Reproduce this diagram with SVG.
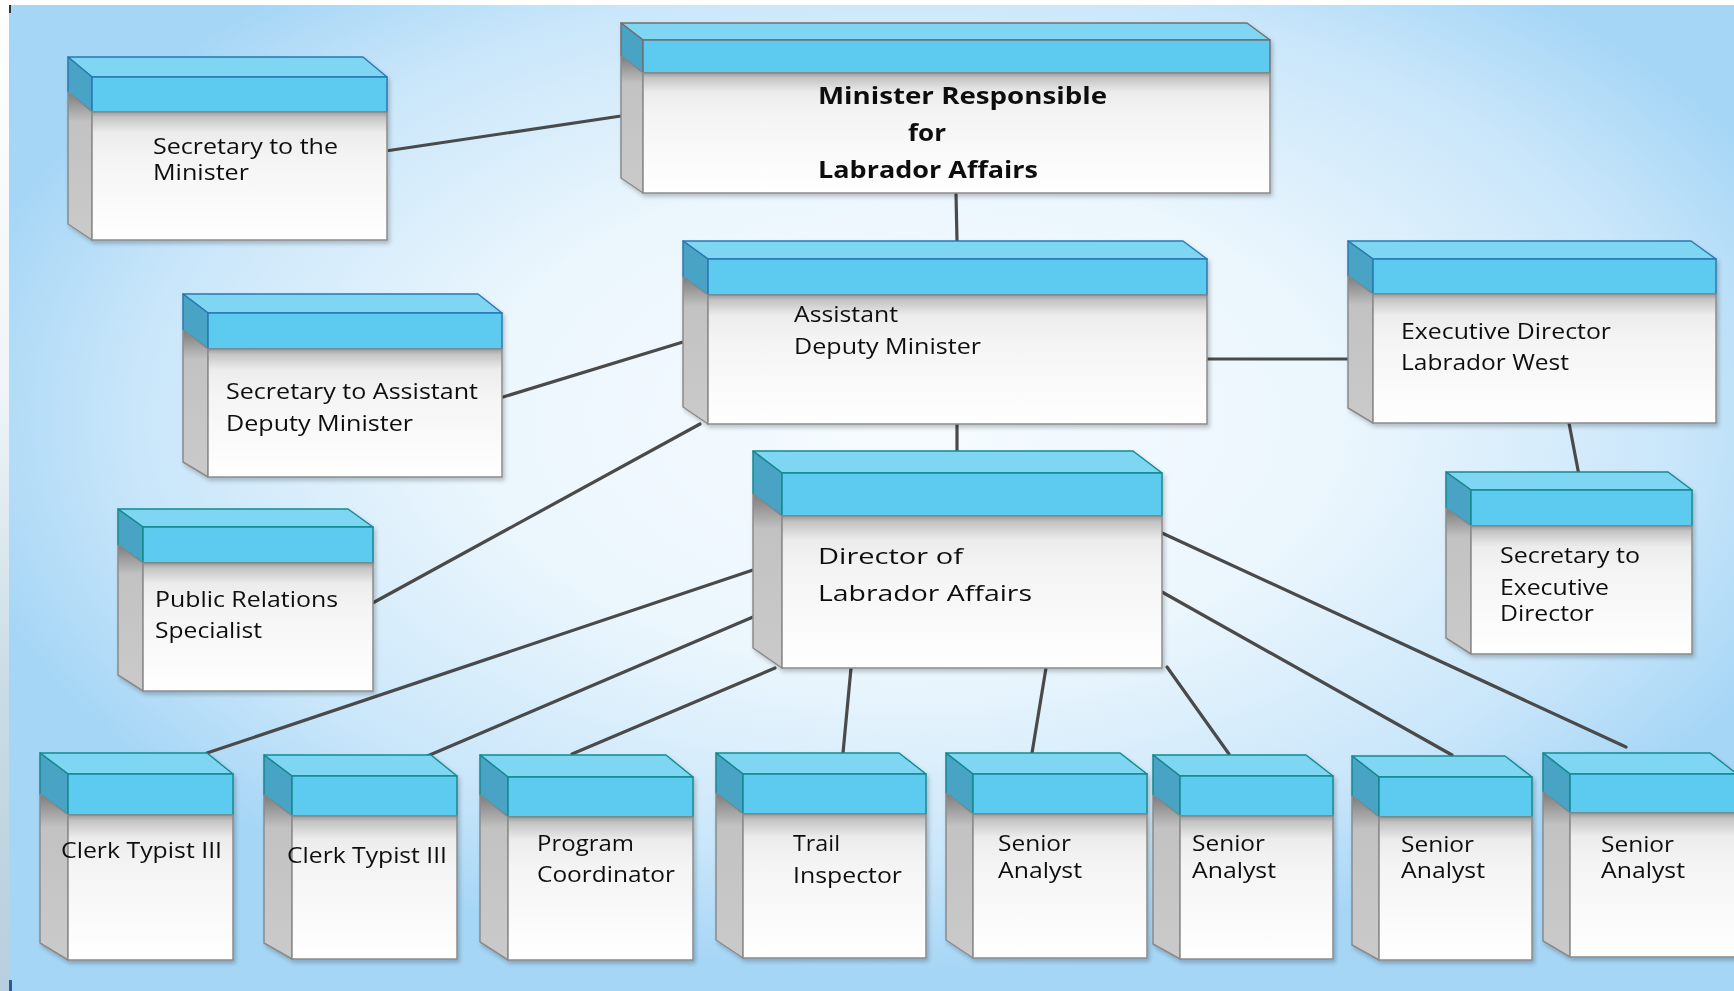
<svg xmlns="http://www.w3.org/2000/svg" width="1734" height="991" viewBox="0 0 1734 991">
<defs>
<radialGradient id="bg" cx="0.52" cy="0.42" r="0.56">
<stop offset="0" stop-color="#f6fbff"/>
<stop offset="0.45" stop-color="#ebf6fd"/>
<stop offset="0.8" stop-color="#c9e6fa"/>
<stop offset="1" stop-color="#a6d6f6"/>
</radialGradient>
<linearGradient id="strip" x1="0" y1="0" x2="0" y2="1">
<stop offset="0" stop-color="#ffffff"/>
<stop offset="0.4" stop-color="#eef4f8"/>
<stop offset="0.7" stop-color="#c9dbe6"/>
<stop offset="1" stop-color="#b7cfdf"/>
</linearGradient>
<linearGradient id="gBody" x1="0" y1="0" x2="0" y2="1">
<stop offset="0" stop-color="#9c9c9c"/>
<stop offset="0.04" stop-color="#c4c4c4"/>
<stop offset="0.16" stop-color="#ececec"/>
<stop offset="0.35" stop-color="#f4f4f4"/>
<stop offset="1" stop-color="#ffffff"/>
</linearGradient>
<linearGradient id="gSide" x1="0" y1="0" x2="0" y2="1">
<stop offset="0" stop-color="#7c7c7c"/>
<stop offset="0.2" stop-color="#c2c2c2"/>
<stop offset="1" stop-color="#cacaca"/>
</linearGradient>
<filter id="sh" x="-5%" y="-5%" width="112%" height="115%">
<feDropShadow dx="2" dy="3" stdDeviation="2" flood-color="#000" flood-opacity="0.22"/>
</filter>
</defs>
<style>
.top{fill:#7fd6f3;stroke-width:1.5;stroke-linejoin:round}
.band{fill:#5dcaf0;stroke-width:1.5}
.bside{fill:#4aa3c4;stroke-width:1.5;stroke-linejoin:round}
.body{fill:url(#gBody);stroke:#8a8a8a;stroke-width:1.5}
.side{fill:url(#gSide);stroke:#8a8a8a;stroke-width:1.5;stroke-linejoin:round}
.teal .top,.teal .band,.teal .bside{stroke:#138a8e}
.blue .top,.blue .band,.blue .bside{stroke:#2a78b2}
.grey .top,.grey .band,.grey .bside{stroke:#707070}
.box{filter:url(#sh)}
.t{font-family:"Open Sans","Liberation Sans",sans-serif;font-size:21px;fill:#111111}
.tb{font-family:"Open Sans","Liberation Sans",sans-serif;font-size:23px;font-weight:bold;fill:#111111}
.td{font-family:"Open Sans","Liberation Sans",sans-serif;font-size:22.5px;fill:#111111}
.conn line{stroke:#4a4a4a;stroke-width:3.2;stroke-linecap:round}
</style>
<rect x="0" y="0" width="1734" height="991" fill="#ffffff"/>
<rect x="0" y="0" width="10" height="991" fill="url(#strip)"/>
<rect x="9" y="5" width="1725" height="986" fill="url(#bg)"/>
<rect x="9" y="5" width="2" height="8" fill="#333"/>
<rect x="9" y="980" width="3" height="11" fill="#2a5a9a"/>

<g id="connectors" class="conn">
<line x1="389" y1="150.5" x2="621" y2="116"/>
<line x1="956" y1="193" x2="957" y2="241"/>
<line x1="503" y1="397" x2="683" y2="342"/>
<line x1="1207" y1="359" x2="1348" y2="359"/>
<line x1="1569" y1="423" x2="1582" y2="491"/>
<line x1="700" y1="424" x2="369" y2="605"/>
<line x1="957" y1="424" x2="957" y2="451"/>
<line x1="753" y1="570" x2="207" y2="753"/>
<line x1="753" y1="617" x2="425" y2="757"/>
<line x1="775" y1="668" x2="572" y2="754"/>
<line x1="851" y1="668" x2="843" y2="753"/>
<line x1="1046" y1="668" x2="1032" y2="753"/>
<line x1="1167" y1="667" x2="1229" y2="754"/>
<line x1="1162" y1="592" x2="1452" y2="755"/>
<line x1="1162" y1="533" x2="1626" y2="747"/>
</g>

<g id="n-sec-minister" class="box blue">
<polygon class="top" points="68,57 363,57 387,77 92,77"/>
<polygon class="bside" points="68,57 92,77 92,112 68,92"/>
<rect class="band" x="92" y="77" width="295" height="35"/>
<polygon class="side" points="68,92 92,112 92,240 68,224"/>
<rect class="body" x="92" y="112" width="295" height="128"/>
<text class="t" x="153" y="154" textLength="185" lengthAdjust="spacingAndGlyphs">Secretary to the</text>
<text class="t" x="153" y="180" textLength="96" lengthAdjust="spacingAndGlyphs">Minister</text>
</g>

<g id="n-minister" class="box grey">
<polygon class="top" points="621,23 1247,23 1270,40 643,40"/>
<polygon class="bside" points="621,23 643,40 643,73 621,56"/>
<rect class="band" x="643" y="40" width="627" height="33"/>
<polygon class="side" points="621,56 643,73 643,193 621,178"/>
<rect class="body" x="643" y="73" width="627" height="120"/>
<text class="tb" x="818" y="104" textLength="289" lengthAdjust="spacingAndGlyphs">Minister Responsible</text>
<text class="tb" x="908" y="141" textLength="38" lengthAdjust="spacingAndGlyphs">for</text>
<text class="tb" x="818" y="178" textLength="220" lengthAdjust="spacingAndGlyphs">Labrador Affairs</text>
</g>

<g id="n-adm" class="box blue">
<polygon class="top" points="683,241 1183,241 1207,259 708,259"/>
<polygon class="bside" points="683,241 708,259 708,295 683,277"/>
<rect class="band" x="708" y="259" width="499" height="36"/>
<polygon class="side" points="683,277 708,295 708,424 683,407"/>
<rect class="body" x="708" y="295" width="499" height="129"/>
<text class="t" x="794" y="322" textLength="104" lengthAdjust="spacingAndGlyphs">Assistant</text>
<text class="t" x="794" y="354" textLength="187" lengthAdjust="spacingAndGlyphs">Deputy Minister</text>
</g>

<g id="n-sec-adm" class="box blue">
<polygon class="top" points="183,294 478,294 502,313 208,313"/>
<polygon class="bside" points="183,294 208,313 208,349 183,330"/>
<rect class="band" x="208" y="313" width="294" height="36"/>
<polygon class="side" points="183,330 208,349 208,477 183,462"/>
<rect class="body" x="208" y="349" width="294" height="128"/>
<text class="t" x="226" y="399" textLength="252" lengthAdjust="spacingAndGlyphs">Secretary to Assistant</text>
<text class="t" x="226" y="431" textLength="187" lengthAdjust="spacingAndGlyphs">Deputy Minister</text>
</g>

<g id="n-exec-dir" class="box blue">
<polygon class="top" points="1348,241 1691,241 1716,259 1373,259"/>
<polygon class="bside" points="1348,241 1373,259 1373,294 1348,276"/>
<rect class="band" x="1373" y="259" width="343" height="35"/>
<polygon class="side" points="1348,276 1373,294 1373,423 1348,408"/>
<rect class="body" x="1373" y="294" width="343" height="129"/>
<text class="t" x="1401" y="339" textLength="210" lengthAdjust="spacingAndGlyphs">Executive Director</text>
<text class="t" x="1401" y="370" textLength="168" lengthAdjust="spacingAndGlyphs">Labrador West</text>
</g>

<g id="n-sec-exec" class="box teal">
<polygon class="top" points="1446,472 1668,472 1692,490 1471,490"/>
<polygon class="bside" points="1446,472 1471,490 1471,526 1446,508"/>
<rect class="band" x="1471" y="490" width="221" height="36"/>
<polygon class="side" points="1446,508 1471,526 1471,654 1446,638"/>
<rect class="body" x="1471" y="526" width="221" height="128"/>
<text class="t" x="1500" y="563" textLength="140" lengthAdjust="spacingAndGlyphs">Secretary to</text>
<text class="t" x="1500" y="595" textLength="109" lengthAdjust="spacingAndGlyphs">Executive</text>
<text class="t" x="1500" y="621" textLength="94" lengthAdjust="spacingAndGlyphs">Director</text>
</g>

<g id="n-pr" class="box teal">
<polygon class="top" points="118,509 348,509 373,527 143,527"/>
<polygon class="bside" points="118,509 143,527 143,563 118,545"/>
<rect class="band" x="143" y="527" width="230" height="36"/>
<polygon class="side" points="118,545 143,563 143,691 118,675"/>
<rect class="body" x="143" y="563" width="230" height="128"/>
<text class="t" x="155" y="607" textLength="183" lengthAdjust="spacingAndGlyphs">Public Relations</text>
<text class="t" x="155" y="638" textLength="107" lengthAdjust="spacingAndGlyphs">Specialist</text>
</g>

<g id="n-director" class="box teal">
<polygon class="top" points="753,451 1133,451 1162,473 782,473"/>
<polygon class="bside" points="753,451 782,473 782,516 753,494"/>
<rect class="band" x="782" y="473" width="380" height="43"/>
<polygon class="side" points="753,494 782,516 782,668 753,648"/>
<rect class="body" x="782" y="516" width="380" height="152"/>
<text class="td" x="818" y="564" textLength="145" lengthAdjust="spacingAndGlyphs">Director of</text>
<text class="td" x="818" y="601" textLength="214" lengthAdjust="spacingAndGlyphs">Labrador Affairs</text>
</g>

<g id="n-clerk1" class="box teal">
<polygon class="top" points="40,753 207,753 233,774 68,774"/>
<polygon class="bside" points="40,753 68,774 68,815 40,794"/>
<rect class="band" x="68" y="774" width="165" height="41"/>
<polygon class="side" points="40,794 68,815 68,960 40,943"/>
<rect class="body" x="68" y="815" width="165" height="145"/>
<text class="t" x="61" y="858" textLength="161" lengthAdjust="spacingAndGlyphs">Clerk Typist III</text>
</g>

<g id="n-clerk2" class="box teal">
<polygon class="top" points="264,755 431,755 457,776 292,776"/>
<polygon class="bside" points="264,755 292,776 292,816 264,795"/>
<rect class="band" x="292" y="776" width="165" height="40"/>
<polygon class="side" points="264,795 292,816 292,959 264,943"/>
<rect class="body" x="292" y="816" width="165" height="143"/>
<text class="t" x="287" y="863" textLength="160" lengthAdjust="spacingAndGlyphs">Clerk Typist III</text>
</g>

<g id="n-program" class="box teal">
<polygon class="top" points="480,755 666,755 693,777 508,777"/>
<polygon class="bside" points="480,755 508,777 508,817 480,795"/>
<rect class="band" x="508" y="777" width="185" height="40"/>
<polygon class="side" points="480,795 508,817 508,960 480,942"/>
<rect class="body" x="508" y="817" width="185" height="143"/>
<text class="t" x="537" y="851" textLength="97" lengthAdjust="spacingAndGlyphs">Program</text>
<text class="t" x="537" y="882" textLength="138" lengthAdjust="spacingAndGlyphs">Coordinator</text>
</g>

<g id="n-trail" class="box teal">
<polygon class="top" points="716,753 899,753 926,774 743,774"/>
<polygon class="bside" points="716,753 743,774 743,814 716,793"/>
<rect class="band" x="743" y="774" width="183" height="40"/>
<polygon class="side" points="716,793 743,814 743,958 716,940"/>
<rect class="body" x="743" y="814" width="183" height="144"/>
<text class="t" x="793" y="851" textLength="47" lengthAdjust="spacingAndGlyphs">Trail</text>
<text class="t" x="793" y="883" textLength="109" lengthAdjust="spacingAndGlyphs">Inspector</text>
</g>

<g id="n-senior1" class="box teal">
<polygon class="top" points="946,753 1120,753 1147,774 973,774"/>
<polygon class="bside" points="946,753 973,774 973,814 946,793"/>
<rect class="band" x="973" y="774" width="174" height="40"/>
<polygon class="side" points="946,793 973,814 973,958 946,940"/>
<rect class="body" x="973" y="814" width="174" height="144"/>
<text class="t" x="998" y="851" textLength="73" lengthAdjust="spacingAndGlyphs">Senior</text>
<text class="t" x="998" y="878" textLength="84" lengthAdjust="spacingAndGlyphs">Analyst</text>
</g>

<g id="n-senior2" class="box teal">
<polygon class="top" points="1153,755 1306,755 1333,776 1180,776"/>
<polygon class="bside" points="1153,755 1180,776 1180,816 1153,795"/>
<rect class="band" x="1180" y="776" width="153" height="40"/>
<polygon class="side" points="1153,795 1180,816 1180,959 1153,944"/>
<rect class="body" x="1180" y="816" width="153" height="143"/>
<text class="t" x="1192" y="851" textLength="73" lengthAdjust="spacingAndGlyphs">Senior</text>
<text class="t" x="1192" y="878" textLength="84" lengthAdjust="spacingAndGlyphs">Analyst</text>
</g>

<g id="n-senior3" class="box teal">
<polygon class="top" points="1352,756 1505,756 1532,777 1379,777"/>
<polygon class="bside" points="1352,756 1379,777 1379,817 1352,796"/>
<rect class="band" x="1379" y="777" width="153" height="40"/>
<polygon class="side" points="1352,796 1379,817 1379,960 1352,945"/>
<rect class="body" x="1379" y="817" width="153" height="143"/>
<text class="t" x="1401" y="852" textLength="73" lengthAdjust="spacingAndGlyphs">Senior</text>
<text class="t" x="1401" y="878" textLength="84" lengthAdjust="spacingAndGlyphs">Analyst</text>
</g>

<g id="n-senior4" class="box teal">
<polygon class="top" points="1543,753 1710,753 1737,774 1570,774"/>
<polygon class="bside" points="1543,753 1570,774 1570,813 1543,792"/>
<rect class="band" x="1570" y="774" width="167" height="39"/>
<polygon class="side" points="1543,792 1570,813 1570,957 1543,941"/>
<rect class="body" x="1570" y="813" width="167" height="144"/>
<text class="t" x="1601" y="852" textLength="73" lengthAdjust="spacingAndGlyphs">Senior</text>
<text class="t" x="1601" y="878" textLength="84" lengthAdjust="spacingAndGlyphs">Analyst</text>
</g>
</svg>
